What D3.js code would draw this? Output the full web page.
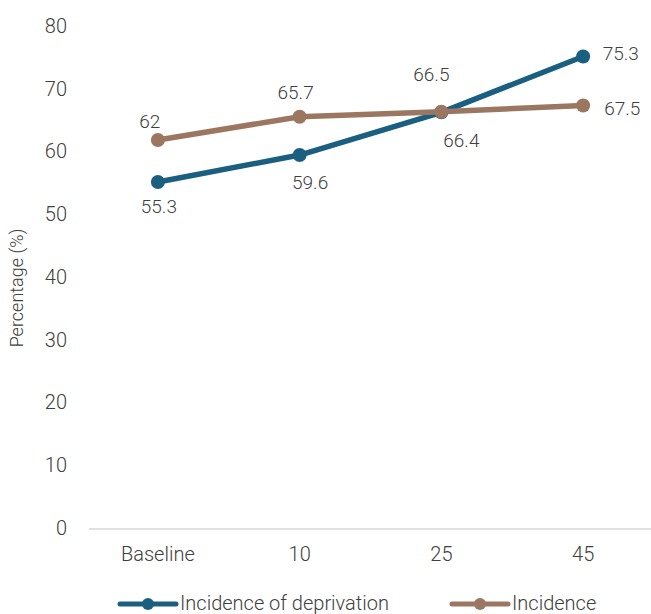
<!DOCTYPE html>
<html>
<head>
<meta charset="utf-8">
<script src="https://cdn.jsdelivr.net/npm/d3@7"></script>
<style>
  body { margin: 0; background: #fff; }
  svg { display: block; font-family: Roboto, "Noto Sans", sans-serif; }
</style>
</head>
<body>
<svg id="chart" width="651" height="614"></svg>
<script>
// ---- data ----
const categories = ["Baseline", "10", "25", "45"];
const deprivation = [55.3, 59.6, 66.4, 75.3];
const incidence = [62, 65.7, 66.5, 67.5];
const yTicks = [0, 10, 20, 30, 40, 50, 60, 70, 80];
const seriesNames = ["Incidence of deprivation", "Incidence"];

// ---- layout / style ----
const colors = ["#1a5f80", "#9b7762"];
const textColor = "#404040";
// data label offsets relative to the point: [dx, dy(baseline), anchor]
const labelLayout = [
  [[1, 31, "middle"], [10.5, 34, "middle"], [20, 35, "middle"], [19.5, 4, "start"]],
  [[-8, -12, "middle"], [-4, -18, "middle"], [-10, -31, "middle"], [21, 9.5, "start"]]
];

const svg = d3.select("#chart");
const x = d3.scaleBand().domain(categories).range([87, 654]).paddingInner(0).paddingOuter(0);
const y = d3.scaleLinear().domain([0, 80]).range([529, 27]);
const cx = d => x(d) + x.bandwidth() / 2;

// Y axis (labels only)
const yAxis = d3.axisLeft(y).tickValues(yTicks).tickSize(0).tickPadding(0);
const gy = svg.append("g").attr("transform", "translate(67,-1)").call(yAxis);
gy.select(".domain").remove();
gy.selectAll("text").attr("font-size", 20).attr("fill", textColor)
  .attr("font-family", "Roboto").attr("font-weight", 300);

// X axis
const xAxis = d3.axisBottom(x).tickSize(0).tickPadding(18);
const gx = svg.append("g").attr("transform", "translate(0,529)").call(xAxis);
gx.select(".domain").attr("d", "M89,0H651").attr("stroke", "#d9d9d9").attr("stroke-width", 1.5);
gx.selectAll("text").attr("font-size", 20).attr("fill", textColor)
  .attr("font-family", "Roboto").attr("font-weight", 300);

// Y title
svg.append("text")
  .attr("transform", "translate(23,288) rotate(-90)")
  .attr("text-anchor", "middle")
  .attr("font-size", 18).attr("font-weight", 300).attr("fill", textColor)
  .text("Percentage (%)");

const line = d3.line().x((d, i) => cx(categories[i])).y(d => y(d));

const series = [
  { name: seriesNames[0], values: deprivation, color: colors[0], layout: labelLayout[0] },
  { name: seriesNames[1], values: incidence, color: colors[1], layout: labelLayout[1] }
];

series.forEach(s => {
  svg.append("path").datum(s.values)
    .attr("d", line).attr("fill", "none")
    .attr("stroke", s.color).attr("stroke-width", 5.5).attr("stroke-linejoin", "round");
  svg.append("g").selectAll("circle").data(s.values).join("circle")
    .attr("cx", (d, i) => cx(categories[i])).attr("cy", d => y(d))
    .attr("r", 7).attr("fill", s.color);
});

// data labels
series.forEach(s => {
  svg.append("g").selectAll("text").data(s.values).join("text")
    .attr("x", (d, i) => cx(categories[i]) + s.layout[i][0])
    .attr("y", (d, i) => y(d) + s.layout[i][1])
    .attr("text-anchor", (d, i) => s.layout[i][2])
    .attr("font-size", 19).attr("font-weight", 300).attr("fill", textColor)
    .text(d => d);
});

// Legend
const legendX = [120, 452];
const lg = svg.append("g");
series.forEach((s, k) => {
  const g = lg.append("g").attr("transform", `translate(${legendX[k]},604)`);
  g.append("line").attr("x1", 0).attr("x2", 56).attr("y1", 0).attr("y2", 0)
    .attr("stroke", s.color).attr("stroke-width", 5).attr("stroke-linecap", "round");
  g.append("circle").attr("cx", 28).attr("cy", 0).attr("r", 6).attr("fill", s.color);
  g.append("text").attr("x", 60).attr("y", 6).attr("font-size", 20).attr("font-weight", 300)
    .attr("fill", textColor).text(s.name);
});
</script>
</body>
</html>
